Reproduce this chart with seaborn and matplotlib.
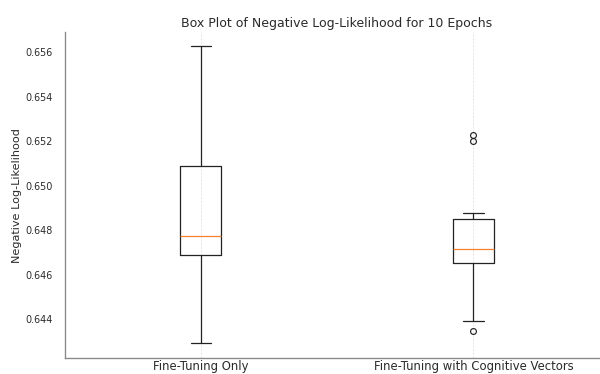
import numpy as np
import pandas as pd
import matplotlib
matplotlib.use("Agg")
import matplotlib.pyplot as plt
import seaborn as sns

categories = ["Fine-Tuning Only", "Fine-Tuning with Cognitive Vectors"]
fine_tuning_only = [0.64292, 0.64550, 0.64670, 0.64742, 0.64760,
                    0.64784, 0.65010, 0.65111, 0.65300, 0.65624]
fine_tuning_cv = [0.64345, 0.64392, 0.64640, 0.64680, 0.64700,
                  0.64730, 0.64772, 0.64876, 0.65198, 0.65225]
y_ticks = [0.644, 0.646, 0.648, 0.650, 0.652, 0.654, 0.656]

df = pd.DataFrame({
    "Method": [categories[0]] * len(fine_tuning_only) + [categories[1]] * len(fine_tuning_cv),
    "NLL": fine_tuning_only + fine_tuning_cv,
})

sns.set_style("white")
plt.rcParams["font.family"] = ["DejaVu Sans"]
text_color = "#2a2a2a"

fig = plt.figure(figsize=(10, 6.24), dpi=60)
ax = fig.add_axes([0.1075, 0.0428, 0.9085, 0.8716])

sns.boxplot(
    data=df, x="Method", y="NLL", ax=ax, width=0.15, fill=False,
    color="#222222", linewidth=1.5,
    medianprops=dict(color="#f5802f", linewidth=1.5),
    flierprops=dict(marker="o", markerfacecolor="none", markeredgecolor="#222222",
                    markersize=7, markeredgewidth=1.4),
    capwidths=0.075,
)

ax.set_xlim(-0.5, 1.5)
ax.margins(y=0.05)
ax.grid(axis="x", linestyle="--", color="#dddddd", linewidth=0.8)
ax.grid(axis="y", visible=False)
ax.set_axisbelow(True)

sns.despine(ax=ax, top=True, right=True)
for side in ["left", "bottom"]:
    ax.spines[side].set_color("#888888")
    ax.spines[side].set_linewidth(1.6)

ax.tick_params(axis="both", direction="in", length=4, color="#999999",
               labelcolor=text_color, right=False, top=False)
ax.tick_params(axis="y", labelsize=11.5, pad=14)
ax.tick_params(axis="x", labelsize=14, pad=2)
ax.set_yticks(y_ticks)
ax.set_yticklabels([f"{t:.3f}" for t in y_ticks])

ax.set_xlabel("")
ax.set_ylabel("Negative Log-Likelihood", color=text_color, fontsize=13.5, labelpad=4)
ax.set_title("Box Plot of Negative Log-Likelihood for 10 Epochs", color=text_color, fontsize=15)

fig.savefig("out.png", dpi=60)
